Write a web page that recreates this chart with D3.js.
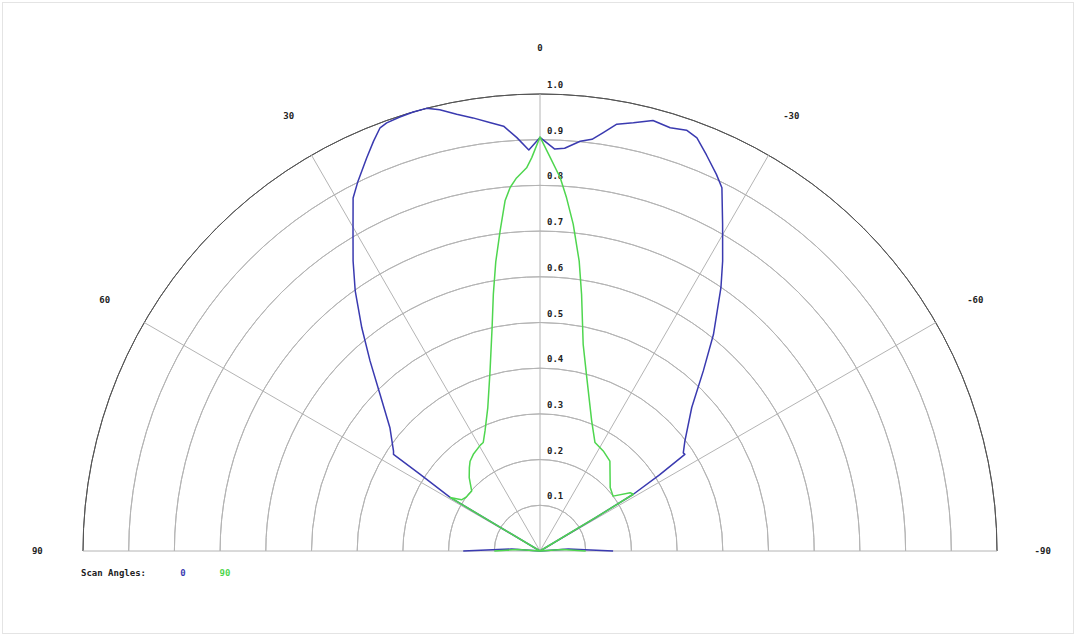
<!DOCTYPE html>
<meta charset="utf-8">
<script src="https://d3js.org/d3.v7.min.js"></script>
<style>
  body { margin: 0; background: #fff; }
  text { font-family: "DejaVu Sans Mono", monospace; font-size: 9px; font-weight: bold; fill: #222; }
</style>
<div id="my_dataviz"></div>
<script>

// scan angle 0 (blue) : angle in degrees (positive = left), relative value
var scan0Angles = [-90, -86, -62, -59, -58.7, -57.5, -56.3, -55.6, -52.8, -46.6, -42.2, -38.7, -34.5, -32.2, -29.2, -26.6, -25.1, -22.8, -20.8, -19.2, -17.1, -14.7, -12.3, -10.2, -8.6, -7.2, -5.6, -3.5, -2.1, 0,
                   1.6, 3.2, 4.9, 6.7, 8.8, 10.8, 12.8, 14.4, 16.1, 17.9, 19.7, 20.7, 22.1, 23.8, 26.2, 27.9, 30.3, 32.8, 35.4, 38.6, 41.8, 45.6, 50.6, 55.7, 56.6, 57.4, 59.2, 59.5, 86, 90];
var scan0Values = [0.16, 0.062, 0, 0.14, 0.239, 0.31, 0.381, 0.38, 0.398, 0.457, 0.532, 0.607, 0.699, 0.75, 0.819, 0.889, 0.91, 0.94, 0.967, 0.975, 0.969, 0.974, 0.959, 0.949, 0.926, 0.908, 0.901, 0.883, 0.88, 0.905,
                   0.878, 0.906, 0.933, 0.944, 0.959, 0.973, 0.99, 1.0, 1.0, 0.998, 0.995, 0.99, 0.968, 0.94, 0.902, 0.874, 0.811, 0.755, 0.698, 0.625, 0.558, 0.49, 0.425, 0.388, 0.384, 0.312, 0.229, 0, 0.062, 0.168];

// scan angle 90 (green)
var scan90Angles = [-90, -86, -62, -59, -58.7, -57.1, -53.1, -47.9, -45, -37.9, -32.3, -26.9, -21.7, -15.1, -11.8, -9.2, -7.7, -5.8, -4.3, -3.1, -1.5, 0,
                    1.2, 2, 3.6, 4.7, 5.7, 7.1, 8.7, 10.3, 12.1, 15.5, 20, 24.6, 27.6, 29.4, 34.6, 37.9, 40.3, 44, 48.7, 50.2, 54, 56.9, 59.2, 59.5, 86, 90];
var scan90Values = [0.1, 0.05, 0, 0.15, 0.239, 0.235, 0.2, 0.207, 0.217, 0.249, 0.259, 0.266, 0.306, 0.393, 0.462, 0.569, 0.64, 0.719, 0.775, 0.818, 0.861, 0.906,
                    0.861, 0.839, 0.818, 0.798, 0.77, 0.706, 0.64, 0.571, 0.5, 0.409, 0.334, 0.289, 0.268, 0.266, 0.257, 0.249, 0.239, 0.223, 0.199, 0.199, 0.2, 0.205, 0.229, 0, 0.05, 0.1];

var ringTicks = [0.1, 0.2, 0.3, 0.4, 0.5, 0.6, 0.7, 0.8, 0.9, 1.0];
var spokeAngles = [-90, -60, -30, 0, 30, 60, 90];
var legendLabels = ["0", "90"];

var width = 1080, height = 637;
var cx = 540, cy = 551;

var svg = d3.select("#my_dataviz")
  .append("svg")
    .attr("width", width)
    .attr("height", height);

// faint frame
svg.append("rect")
  .attr("x", 2.5).attr("y", 2.5)
  .attr("width", 1071).attr("height", 631)
  .attr("fill", "none")
  .attr("stroke", "#e4e4e4");

var g = svg.append("g")
  .attr("transform", "translate(" + cx + "," + cy + ")");

var r = d3.scaleLinear().domain([0, 1]).range([0, 457]);
// degrees (positive to the left) -> radians clockwise from top
var a = d3.scaleLinear().domain([-90, 90]).range([Math.PI / 2, -Math.PI / 2]);

// rings
var arc = d3.arc()
  .innerRadius(function(d) { return r(d); })
  .outerRadius(function(d) { return r(d); })
  .startAngle(-Math.PI / 2)
  .endAngle(Math.PI / 2);

g.selectAll(".ring")
  .data(ringTicks)
  .enter()
  .append("path")
    .attr("d", arc)
    .attr("fill", "none")
    .attr("stroke", function(d) { return d == 1 ? "#555" : "#b4b4b4"; })
    .attr("stroke-width", 1);

// spokes
g.selectAll(".spoke")
  .data(spokeAngles)
  .enter()
  .append("line")
    .attr("x1", 0).attr("y1", 0)
    .attr("x2", function(d) { return r(1) * Math.sin(a(d)); })
    .attr("y2", function(d) { return -r(1) * Math.cos(a(d)); })
    .attr("stroke", "#b4b4b4")
    .attr("stroke-width", 1);

// radius labels
g.selectAll(".rlabel")
  .data(ringTicks)
  .enter()
  .append("text")
    .attr("x", 7)
    .attr("y", function(d) { return -r(d) - 6; })
    .text(function(d) { return d3.format(".1f")(d); });

// angle labels
g.selectAll(".alabel")
  .data(spokeAngles)
  .enter()
  .append("text")
    .attr("x", function(d) { return r(1.1) * Math.sin(a(d)); })
    .attr("y", function(d) { return -r(1.1) * Math.cos(a(d)); })
    .attr("text-anchor", "middle")
    .attr("dy", "0.35em")
    .text(function(d) { return d; });

// curves
var line = d3.lineRadial()
  .angle(function(d) { return a(d[0]); })
  .radius(function(d) { return r(d[1]); });

var series = [
  { data: d3.zip(scan0Angles, scan0Values), color: "#3a3ab0" },
  { data: d3.zip(scan90Angles, scan90Values), color: "#4fd64f" }
];

g.selectAll(".curve")
  .data(series)
  .enter()
  .append("path")
    .attr("d", function(d) { return line(d.data); })
    .attr("fill", "none")
    .attr("stroke", function(d) { return d.color; })
    .attr("stroke-width", 1.5)
    .attr("stroke-linejoin", "round");

// legend
svg.append("text")
  .attr("x", 81).attr("y", 576)
  .text("Scan Angles:");

svg.selectAll(".leg")
  .data(legendLabels)
  .enter()
  .append("text")
    .attr("x", function(d, i) { return 183 + i * 42; })
    .attr("y", 576)
    .attr("text-anchor", "middle")
    .style("fill", function(d, i) { return series[i].color; })
    .text(function(d) { return d; });

</script>
